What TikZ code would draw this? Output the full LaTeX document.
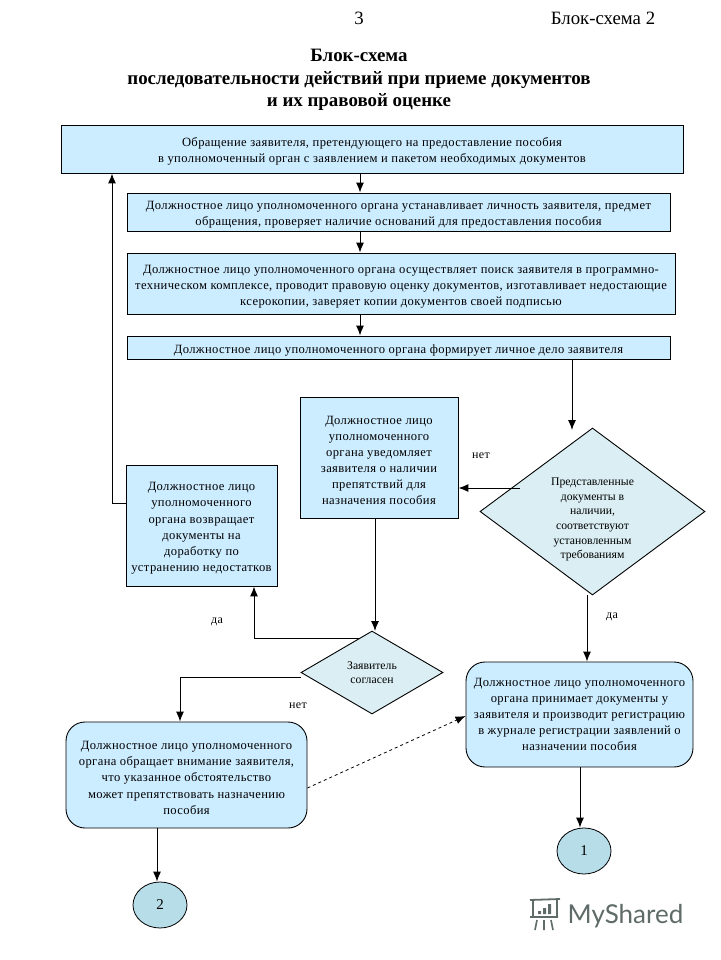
\documentclass[tikz,border=0pt]{standalone}
\usepackage{fontspec}
\setmainfont{Liberation Serif}
\newfontfamily\boxfont[LetterSpace=3]{Liberation Serif}
\newfontfamily\logofont{Lato}
\usetikzlibrary{arrows.meta,shapes.geometric}

\definecolor{boxblue}{HTML}{CCECFF}
\definecolor{choicegrey}{HTML}{DAEEF3}
\definecolor{pagemark}{HTML}{B7DEE8}
\definecolor{logogrey}{HTML}{5F6B68}

\newcommand\topgap{\rule{0pt}{14pt}}

\tikzset{
  blockbox/.style={draw=black, line width=0.9pt, fill=boxblue, inner sep=0pt, align=center,
    font=\boxfont\fontsize{12.6}{16.1}\selectfont},
  softbox/.style={blockbox, rounded corners=19pt},
  choice/.style={diamond, draw=black, line width=0.9pt, fill=choicegrey, inner sep=0pt, align=center,
    font=\fontsize{11.7}{14.6}\selectfont},
  pagelink/.style={ellipse, draw=black, line width=0.8pt, fill=pagemark, inner sep=0pt,
    minimum width=54pt, minimum height=46pt, font=\fontsize{15}{16}\selectfont},
  caption/.style={inner sep=0pt, font=\boxfont\fontsize{12}{12}\selectfont},
  flow/.style={line width=1pt, -{Latex[length=10pt,width=8pt]}},
}

\begin{document}
\begin{tikzpicture}[x=1pt, y=-1pt]
  \useasboundingbox (0,0) rectangle (720,960);

  \node[inner sep=0pt, font=\fontsize{18.8}{20}\selectfont] (pagenum) at (359,18) {3};
  \node[inner sep=0pt, font=\fontsize{18.8}{20}\selectfont] (schemeno) at (603,18) {Блок-схема 2};
  \node[inner sep=0pt, align=center, font=\fontsize{18.9}{22.5}\bfseries\selectfont] (heading) at (359,80)
    {Блок-схема\\последовательности действий при приеме документов\\и их правовой оценке};

  \node[blockbox, minimum width=622pt, minimum height=48pt] (request) at (372,149)
    {\topgap Обращение заявителя, претендующего на предоставление пособия\\в уполномоченный орган с заявлением и пакетом необходимых документов};
  \node[blockbox, minimum width=543pt, minimum height=38pt] (identify) at (398.5,212)
    {\topgap Должностное лицо уполномоченного органа устанавливает личность заявителя, предмет\\обращения, проверяет наличие оснований для предоставления пособия};
  \node[blockbox, minimum width=548pt, minimum height=61pt] (search) at (401,283.5)
    {\topgap Должностное лицо уполномоченного органа осуществляет поиск заявителя в программно-\\техническом комплексе, проводит правовую оценку документов, изготавливает недостающие\\ксерокопии, заверяет копии документов своей подписью};
  \node[blockbox, minimum width=543pt, minimum height=23pt] (casefile) at (398.5,347.5)
    {\topgap Должностное лицо уполномоченного органа формирует личное дело заявителя};

  \node[blockbox, minimum width=158pt, minimum height=121pt] (notify) at (379,457.5)
    {\topgap Должностное лицо\\уполномоченного\\органа уведомляет\\заявителя о наличии\\препятствий для\\назначения пособия};
  \node[blockbox, minimum width=151pt, minimum height=121pt] (giveback) at (201.5,525.5)
    {\topgap Должностное лицо\\уполномоченного\\органа возвращает\\документы на\\доработку по\\устранению недостатков};
  \node[choice, minimum width=225pt, minimum height=167pt, shape aspect=1.35] (complete) at (592.5,511.5)
    {\rule{0pt}{24pt}Представленные\\документы в\\наличии,\\соответствуют\\установленным\\требованиям};
  \node[choice, minimum width=142pt, minimum height=83pt, shape aspect=1.7] (agrees) at (372,672.5)
    {Заявитель\\согласен};
  \node[softbox, minimum width=227pt, minimum height=105pt] (accept) at (579.5,714.5)
    {Должностное лицо уполномоченного\\органа принимает документы у\\заявителя и производит регистрацию\\в журнале регистрации заявлений о\\назначении пособия};
  \node[softbox, minimum width=241pt, minimum height=106pt] (warn) at (186.5,775)
    {\topgap Должностное лицо уполномоченного\\органа обращает внимание заявителя,\\что указанное обстоятельство\\может препятствовать назначению\\пособия};
  \node[pagelink] (linkone) at (584,851) {1};
  \node[pagelink] (linktwo) at (160,905) {2};

  \node[caption] (capno) at (481,456) {нет};
  \node[caption] (capyes) at (612,617) {да};
  \node[caption] (capyesb) at (217,622) {да};
  \node[caption] (capnob) at (298,706) {нет};

  \coordinate (trunk) at (360,0);
  \coordinate (backx) at (112,503);
  \coordinate (rightx) at (572,430);
  \coordinate (slantout) at (520,488);
  \coordinate (fallx) at (375,631);
  \coordinate (yesout) at (360,638);
  \coordinate (leftturn) at (254,638);
  \coordinate (lowturn) at (180,677);
  \coordinate (acceptx) at (587,0);
  \coordinate (endx) at (580,0);
  \coordinate (warnx) at (157,0);
  \coordinate (dashout) at (0,788);
  \coordinate (dashin) at (0,716);

  \draw[flow] (request.south -| trunk) -- (identify.north -| trunk);
  \draw[flow] (identify.south -| trunk) -- (search.north -| trunk);
  \draw[flow] (search.south -| trunk) -- (casefile.north -| trunk);
  \draw[flow] (casefile.south -| rightx) -- (rightx);
  \draw[flow] (slantout) -- (notify.east |- slantout);
  \draw[flow] (notify.south -| fallx) -- (fallx);
  \draw[flow] (yesout) -- (leftturn) -- (giveback.south -| leftturn);
  \draw[flow] (agrees.west |- lowturn) -- (lowturn) -- (warn.north -| lowturn);
  \draw[flow] (giveback.west |- backx) -- (backx) -- (request.south -| backx);
  \draw[flow] (complete.south -| acceptx) -- (accept.north -| acceptx);
  \draw[flow] (accept.south -| endx) -- (linkone.north -| endx);
  \draw[flow] (warn.south -| warnx) -- (linktwo.north -| warnx);
  \draw[flow, dashed, line width=0.8pt] (warn.east |- dashout) -- (accept.west |- dashin);

  % logo
  \node[inner sep=0pt, text=logogrey, font=\logofont\fontsize{26}{30}\selectfont] (logo) at (625.5,916) {MyShared};
  \draw[logogrey, line width=1.8pt] (530,900) -- (560,899) (530,917) -- (558,917) (533,900) -- (533,917) (557,900) -- (557,917);
  \draw[logogrey, line width=1.6pt] (537,920) -- (535,930) (544,920) -- (544,930) (551,920) -- (553,930);
  \fill[logogrey] (538,911) rectangle +(3,3) (543,908) rectangle +(3,6) (548,904) rectangle +(3,10);
\end{tikzpicture}
\end{document}
